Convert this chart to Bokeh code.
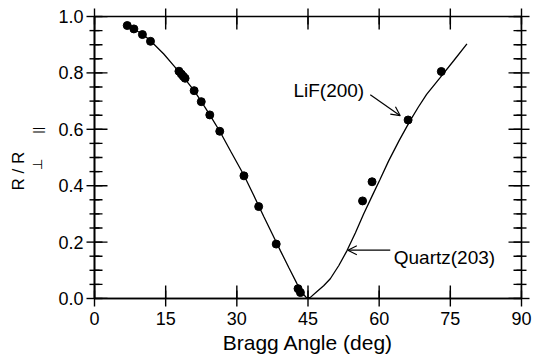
import math
from bokeh.plotting import figure
from bokeh.models import (FixedTicker, Label, Arrow, OpenHead, Range1d,
                          PrintfTickFormatter, Title, ColumnDataSource)
from bokeh.embed import file_html
from bokeh.resources import INLINE

# ---- data ----
data_angle = [6.9, 8.3, 10.1, 11.8, 17.8, 18.3, 18.7, 19.1, 21.0, 22.5, 24.3, 26.4,
              31.5, 34.6, 38.3, 42.9, 43.4, 56.5, 58.5, 66.1, 73.1]
data_ratio = [0.968, 0.956, 0.936, 0.912, 0.806, 0.796, 0.788, 0.781, 0.737, 0.698,
              0.651, 0.593, 0.435, 0.326, 0.193, 0.035, 0.021, 0.346, 0.414, 0.633, 0.805]

curve_angle = [6.9, 10.1, 11.8, 14.6, 16.7, 18.5, 21.0, 22.5, 24.3, 26.4, 28.7, 31.5,
               33.5, 35.7, 37.5, 39.2, 41.0, 42.7, 44.0, 44.7, 45.5, 46.9, 48.3, 49.7,
               51.5, 53.2, 55.0, 56.7, 58.5, 60.2, 62.0, 64.2, 66.5, 68.3, 70.0, 72.9,
               75.7, 78.5]
curve_ratio = [0.968, 0.938, 0.914, 0.867, 0.826, 0.790, 0.737, 0.699, 0.651, 0.593,
               0.522, 0.437, 0.368, 0.290, 0.228, 0.169, 0.108, 0.052, 0.016, 0.002,
               0.004, 0.025, 0.045, 0.070, 0.117, 0.169, 0.233, 0.299, 0.363, 0.423,
               0.488, 0.560, 0.630, 0.680, 0.724, 0.784, 0.843, 0.903]

x_ticks = [0, 15, 30, 45, 60, 75, 90]
y_ticks = [0.0, 0.2, 0.4, 0.6, 0.8, 1.0]
y_minor = [0.05, 0.1, 0.15, 0.25, 0.3, 0.35, 0.45, 0.5, 0.55, 0.65, 0.7, 0.75,
           0.85, 0.9, 0.95]
x_min, x_max = 0, 90
y_min, y_max = 0.0, 1.0

x_title = "Bragg Angle (deg)"
y_title_main = "R\u00a0/\u00a0R"
y_title_sub = "\u00a0" * 5 + "\u22a5" + "\u00a0" * 7 + "||"
note_lif = "LiF(200)"
note_quartz = "Quartz(203)"

FONT = "Liberation Sans"

W, H = 533, 358
FL, FR, FT, FB = 94, 521, 16, 298     # frame edges on the canvas

p = figure(width=W, height=H, output_backend="svg", toolbar_location=None,
           x_range=Range1d(x_min, x_max), y_range=Range1d(y_min, y_max),
           min_border_left=FL, min_border_right=W - FR, min_border_top=FT,
           min_border_bottom=H - FB, title=None)
p.xgrid.visible = False
p.ygrid.visible = False
p.outline_line_color = "black"
p.outline_line_width = 1.6
p.background_fill_color = "white"
p.border_fill_color = "white"

p.xaxis.ticker = FixedTicker(ticks=x_ticks, minor_ticks=[])
p.yaxis.ticker = FixedTicker(ticks=y_ticks, minor_ticks=y_minor)
p.yaxis.formatter = PrintfTickFormatter(format="%.1f")
for ax in (p.xaxis[0], p.yaxis[0]):
    ax.axis_line_color = "black"
    ax.axis_line_width = 1.6
    ax.major_tick_in = 0
    ax.major_tick_out = 0
    ax.minor_tick_in = 0
    ax.minor_tick_out = 0
    ax.major_label_text_font = FONT
    ax.major_label_text_font_size = "18px"
    ax.major_label_text_color = "black"
    ax.axis_label_text_font = FONT
    ax.axis_label_text_font_style = "normal"
    ax.axis_label_text_color = "black"
p.yaxis.major_label_standoff = 11
p.xaxis.major_label_standoff = 13
p.xaxis.major_label_text_line_height = 1.0
p.xaxis.axis_label_text_line_height = 1.0

p.xaxis.axis_label = x_title
p.xaxis.axis_label_text_font_size = "21px"
p.xaxis.axis_label_standoff = 3

# subscripts of the y label sit just outside the tick labels
p.yaxis.axis_label = y_title_sub
p.yaxis.axis_label_text_font_size = "13px"
p.yaxis.axis_label_standoff = 10

# main letters of the y label, further out
p.add_layout(Title(text=y_title_main, align="left", offset=108,
                   vertical_align="bottom", standoff=0,
                   text_font=FONT, text_font_size="17px",
                   text_font_style="normal", text_color="black"), "left")

p.line(curve_angle, curve_ratio, line_width=1.3, color="black")
p.scatter(data_angle, data_ratio, size=8, color="black")

# tick marks on all four sides: thin screen-sized bars centred on the frame edges
nx, ny, nm = len(x_ticks), len(y_ticks), len(y_minor)
bar_sets = [
    (dict(x=x_ticks, y=[y_min] * nx), 1.4, 16),
    (dict(x=x_ticks, y=[y_max] * nx), 1.4, 16),
    (dict(x=[x_min] * ny, y=y_ticks), 16, 1.4),
    (dict(x=[x_max] * ny, y=y_ticks), 16, 1.4),
    (dict(x=[x_min] * nm, y=y_minor), 10, 1.4),
    (dict(x=[x_max] * nm, y=y_minor), 10, 1.4),
]
for d, w, h in bar_sets:
    p.rect(x="x", y="y", width=w, height=h, width_units="screen",
           height_units="screen", fill_color="black", line_color=None,
           source=ColumnDataSource(d), level="overlay")

# inward parts of the ticks, as head-less arrow annotations
px_y = (FB - FT) / (y_max - y_min)   # pixels per y unit
px_x = (FR - FL) / (x_max - x_min)   # pixels per degree
MAJ, MIN = 13, 8
maj_y = MAJ / px_y
maj_x = MAJ / px_x
min_x = MIN / px_x
tick_sets = [
    dict(x0=x_ticks, y0=[y_min] * nx, x1=x_ticks, y1=[y_min + maj_y] * nx),
    dict(x0=x_ticks, y0=[y_max] * nx, x1=x_ticks, y1=[y_max - maj_y] * nx),
    dict(x0=[x_min] * ny, y0=y_ticks, x1=[x_min + maj_x] * ny, y1=y_ticks),
    dict(x0=[x_max] * ny, y0=y_ticks, x1=[x_max - maj_x] * ny, y1=y_ticks),
    dict(x0=[x_min] * nm, y0=y_minor, x1=[x_min + min_x] * nm, y1=y_minor),
    dict(x0=[x_max] * nm, y0=y_minor, x1=[x_max - min_x] * nm, y1=y_minor),
]
for d in tick_sets:
    p.add_layout(Arrow(x_start="x0", y_start="y0", x_end="x1", y_end="y1",
                       source=ColumnDataSource(d), start=None, end=None,
                       line_color="black", line_width=1.4))


# reference pixel -> data coordinates (for annotation placement)
def dx(X):
    return (X - 93.7) / 4.753


def dy(Y):
    return (297.5 - Y) / 281.5


for txt, X, Y in ((note_lif, 293, 89.5), (note_quartz, 393.5, 256.5)):
    p.add_layout(Label(x=dx(X), y=dy(Y), text=txt, text_align="left",
                       text_baseline="alphabetic", text_font=FONT,
                       text_font_size="19px", text_color="black"))

p.add_layout(Arrow(end=OpenHead(size=9, line_width=1.2, line_color="black"),
                   x_start=dx(370), y_start=dy(94), x_end=dx(400), y_end=dy(115),
                   line_width=1.2, line_color="black"))
p.add_layout(Arrow(end=OpenHead(size=9, line_width=1.2, line_color="black"),
                   x_start=dx(390), y_start=dy(249.3), x_end=dx(347.5), y_end=dy(249.3),
                   line_width=1.2, line_color="black"))

open("out.html", "w").write(file_html(p, INLINE))
